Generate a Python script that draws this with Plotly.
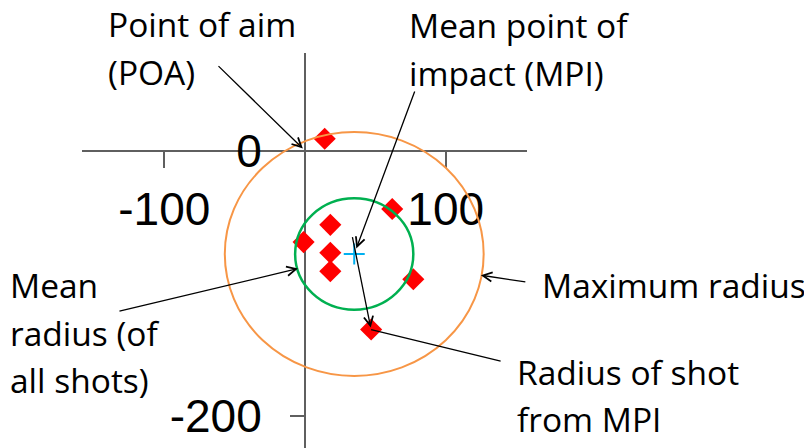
import plotly.graph_objects as go

W, H = 812, 448
PAGE = 8  # default body margin of the html page

# shots (x, y)
shot_x = [14, 62, 18, -1, 18, 18, 77, 47]
shot_y = [9, -44, -56, -69, -77, -91, -97, -135]

# mean point of impact and the two radii
mpi_x = [35]
mpi_y = [-78]
mean_radius = 42
max_radius = 92

x_ticks = [-100, 100]
x_tick_text = ["-100", "100"]
y_ticks = [0, -200]
y_tick_text = ["0", "-200"]

x_range = [-158.5, 157.8]
y_range = [-224.4, 73.7]
x_domain = [(82 - PAGE) / W, (527 - PAGE) / W]
y_domain = [1 - (448 - PAGE) / H, 1 - (53 - PAGE) / H]

AXIS_GREY = "#5f5f5f"
TXT = dict(family="Open Sans", size=33.5, color="black")


def zero_pos(rng, dom):
    # paper position of value 0 on an axis
    return dom[0] + (0 - rng[0]) / (rng[1] - rng[0]) * (dom[1] - dom[0])


def label(text, left, mid):
    return dict(text=text, x=(left - PAGE) / W, y=1 - (mid - PAGE) / H,
                xref="paper", yref="paper",
                xanchor="left", yanchor="middle", showarrow=False, font=TXT)


def arrow(x, y, ax, ay, head=5, standoff=0):
    return dict(x=x, y=y, xref="x", yref="y", ax=ax, ay=ay,
                text="", showarrow=True, arrowhead=head, arrowsize=1.4,
                arrowwidth=1.3, arrowcolor="black", standoff=standoff)


fig = go.Figure()

# circles around the MPI
fig.add_shape(type="circle", xref="x", yref="y",
              x0=mpi_x[0] - max_radius, x1=mpi_x[0] + max_radius,
              y0=mpi_y[0] - max_radius, y1=mpi_y[0] + max_radius,
              line=dict(color="#F79646", width=2))
fig.add_shape(type="circle", xref="x", yref="y",
              x0=mpi_x[0] - mean_radius, x1=mpi_x[0] + mean_radius,
              y0=mpi_y[0] - mean_radius, y1=mpi_y[0] + mean_radius,
              line=dict(color="#00B050", width=2.5))

fig.add_trace(go.Scatter(
    x=shot_x, y=shot_y, mode="markers",
    marker=dict(symbol="diamond", size=17, color="#FF0000"),
    cliponaxis=False
))
fig.add_trace(go.Scatter(
    x=mpi_x, y=mpi_y, mode="markers",
    marker=dict(symbol="cross-thin", size=15, line=dict(color="#00B0F0", width=2))
))

annotations = [
    label("Point of aim", 106, 24),
    label("(POA)", 106, 72),
    label("Mean point of", 407, 25),
    label("impact (MPI)", 407, 73),
    label("Mean", 8, 285),
    label("radius (of", 8, 333),
    label("all shots)", 8, 380),
    label("Maximum radius", 540, 285),
    label("Radius of shot", 515, 372),
    label("from MPI", 515, 419),
    # POA
    arrow(0, 0, -88, -86, standoff=3),
    # MPI
    arrow(mpi_x[0], mpi_y[0], 61, -164, standoff=6),
    # radius of the lowest shot from the MPI
    arrow(shot_x[7], shot_y[7], -19, -94, standoff=2),
    arrow(shot_x[7], shot_y[7], 131, 32, head=0),
    # mean radius
    arrow(-5, -89, -180, 43),
    # maximum radius
    arrow(125, -94, 46, 7),
]

fig.update_layout(
    width=W, height=H,
    margin=dict(l=0, r=0, t=0, b=0),
    plot_bgcolor="white", paper_bgcolor="white",
    showlegend=False,
    annotations=annotations,
    xaxis=dict(range=x_range, domain=x_domain, anchor="free",
               position=zero_pos(y_range, y_domain),
               showgrid=False, showline=False,
               zeroline=True, zerolinecolor=AXIS_GREY, zerolinewidth=2,
               tickmode="array", tickvals=x_ticks, ticktext=x_tick_text,
               ticks="outside", ticklen=16, tickwidth=2, tickcolor=AXIS_GREY,
               ticklabelstandoff=2,
               tickfont=dict(family="Liberation Sans", size=46, color="black")),
    yaxis=dict(range=y_range, domain=y_domain, anchor="free",
               position=zero_pos(x_range, x_domain),
               showgrid=False, showline=False,
               zeroline=True, zerolinecolor=AXIS_GREY, zerolinewidth=2,
               tickmode="array", tickvals=y_ticks, ticktext=y_tick_text,
               ticks="outside", ticklen=15, tickwidth=2, tickcolor=AXIS_GREY,
               ticklabelstandoff=19,
               tickfont=dict(family="Liberation Sans", size=46, color="black")),
)

fig.write_html("out.html")
